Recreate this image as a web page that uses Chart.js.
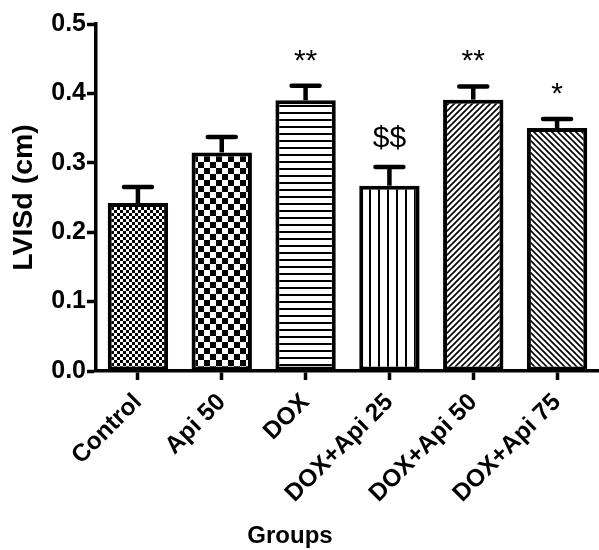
<!DOCTYPE html>
<html>
<head>
<meta charset="utf-8">
<script src="https://cdn.jsdelivr.net/npm/chart.js@4.4.1/dist/chart.umd.min.js"></script>
<style>
html,body{margin:0;padding:0;background:#fff;}
#wrap{width:599px;height:550px;position:relative;}
</style>
</head>
<body>
<div id="wrap"><canvas id="c"></canvas></div>
<script>
const categories = ['Control', 'Api 50', 'DOX', 'DOX+Api 25', 'DOX+Api 50', 'DOX+Api 75'];
const means = [0.242, 0.315, 0.390, 0.267, 0.391, 0.350];
const sems = [0.023, 0.022, 0.021, 0.027, 0.019, 0.013];
const marks = ['', '', '**', '$$', '**', '*'];
const yTicks = [0.0, 0.1, 0.2, 0.3, 0.4, 0.5];
const yTitle = 'LVISd (cm)';
const xTitle = 'Groups';

Chart.defaults.font.family = '"Liberation Sans", Arial, Helvetica, sans-serif';
Chart.defaults.color = '#000';

function tile(size, draw) {
  const c = document.createElement('canvas');
  c.width = size; c.height = size;
  const g = c.getContext('2d');
  g.fillStyle = '#fff'; g.fillRect(0, 0, size, size);
  g.fillStyle = '#000'; g.strokeStyle = '#000';
  draw(g, size);
  return document.createElement('canvas').getContext('2d').createPattern(c, 'repeat');
}
function checker(cell) {
  return tile(cell * 2, (g) => { g.fillRect(0, 0, cell, cell); g.fillRect(cell, cell, cell, cell); });
}
function hlines(sp, w) { return tile(sp, (g, s) => g.fillRect(0, 0, s, w)); }
function vlines(sp, w) { return tile(sp, (g, s) => g.fillRect(0, 0, w, s)); }
function diag(sp, w, dir) {
  return tile(sp, (g, s) => {
    g.lineWidth = w;
    g.beginPath();
    if (dir > 0) {
      g.moveTo(-1, s + 1); g.lineTo(s + 1, -1);
      g.moveTo(-1, 1); g.lineTo(1, -1);
      g.moveTo(s - 1, s + 1); g.lineTo(s + 1, s - 1);
    } else {
      g.moveTo(-1, -1); g.lineTo(s + 1, s + 1);
      g.moveTo(s - 1, -1); g.lineTo(s + 1, 1);
      g.moveTo(-1, s - 1); g.lineTo(1, s + 1);
    }
    g.stroke();
  });
}
const fills = [checker(3), checker(6), hlines(7, 2), vlines(9.5, 2), diag(6, 1.6, 1), diag(6, 1.6, -1)];

const errorBars = {
  id: 'errorBars',
  afterDatasetsDraw(chart) {
    const ctx = chart.ctx;
    const y = chart.scales.y;
    const meta = chart.getDatasetMeta(0);
    ctx.save();
    ctx.strokeStyle = '#000';
    ctx.lineWidth = 4.5;
    meta.data.forEach((bar, i) => {
      const yTop = y.getPixelForValue(means[i] + sems[i]);
      const yBase = y.getPixelForValue(means[i]);
      ctx.lineCap = 'butt';
      ctx.beginPath(); ctx.moveTo(bar.x, yBase); ctx.lineTo(bar.x, yTop); ctx.stroke();
      ctx.lineCap = 'round';
      ctx.beginPath(); ctx.moveTo(bar.x - 14, yTop); ctx.lineTo(bar.x + 14, yTop); ctx.stroke();
      if (marks[i]) {
        ctx.fillStyle = '#000';
        ctx.font = '30px "Liberation Sans", Arial, sans-serif';
        ctx.textAlign = 'center';
        ctx.textBaseline = 'alphabetic';
        const off = marks[i].indexOf('$') >= 0 ? 20 : 16;
        ctx.fillText(marks[i], bar.x, yTop - off);
      }
    });
    ctx.restore();
  }
};

const xTitlePlugin = {
  id: 'xTitlePlugin',
  afterDraw(chart) {
    const ctx = chart.ctx;
    ctx.save();
    ctx.fillStyle = '#000';
    ctx.font = 'bold 24px "Liberation Sans", Arial, sans-serif';
    ctx.textAlign = 'center';
    ctx.textBaseline = 'alphabetic';
    ctx.fillText(xTitle, 290, 543);
    ctx.restore();
  }
};

new Chart(document.getElementById('c'), {
  type: 'bar',
  data: {
    labels: categories,
    datasets: [{
      data: means,
      backgroundColor: fills,
      borderColor: '#000',
      borderWidth: 4,
      borderSkipped: false,
      barPercentage: 0.72,
      categoryPercentage: 1.0
    }]
  },
  options: {
    responsive: true,
    maintainAspectRatio: false,
    animation: false,
    events: [],
    layout: { padding: { top: 24, right: 0, left: 0, bottom: 0 } },
    plugins: { legend: { display: false }, tooltip: { enabled: false }, title: { display: false } },
    scales: {
      x: {
        offset: true,
        grid: { offset: false, drawOnChartArea: false, drawTicks: true, tickLength: 9, tickColor: '#000', tickWidth: 3.5 },
        border: { display: true, color: '#000', width: 3.5 },
        ticks: {
          autoSkip: false, maxRotation: 45, minRotation: 45, padding: 8,
          font: { size: 24.5, weight: 'bold' }, color: '#000'
        },
        afterFit(scale) { scale.height = 179; }
      },
      y: {
        min: 0, max: 0.5,
        afterBuildTicks(scale) { scale.ticks = yTicks.map(v => ({ value: v })); },
        grid: { drawOnChartArea: false, drawTicks: true, tickLength: 9, tickColor: '#000', tickWidth: 3.5 },
        border: { display: true, color: '#000', width: 3.5 },
        ticks: {
          padding: 1, color: '#000',
          font: { size: 25, weight: 'bold' },
          callback: (v) => Number(v).toFixed(1)
        },
        title: {
          display: true, text: yTitle, color: '#000',
          font: { size: 28.5, weight: 'bold' },
          padding: { top: 7, bottom: 0 }
        },
        afterFit(scale) { scale.width = 96; }
      }
    }
  },
  plugins: [errorBars, xTitlePlugin]
});
</script>
</body>
</html>
